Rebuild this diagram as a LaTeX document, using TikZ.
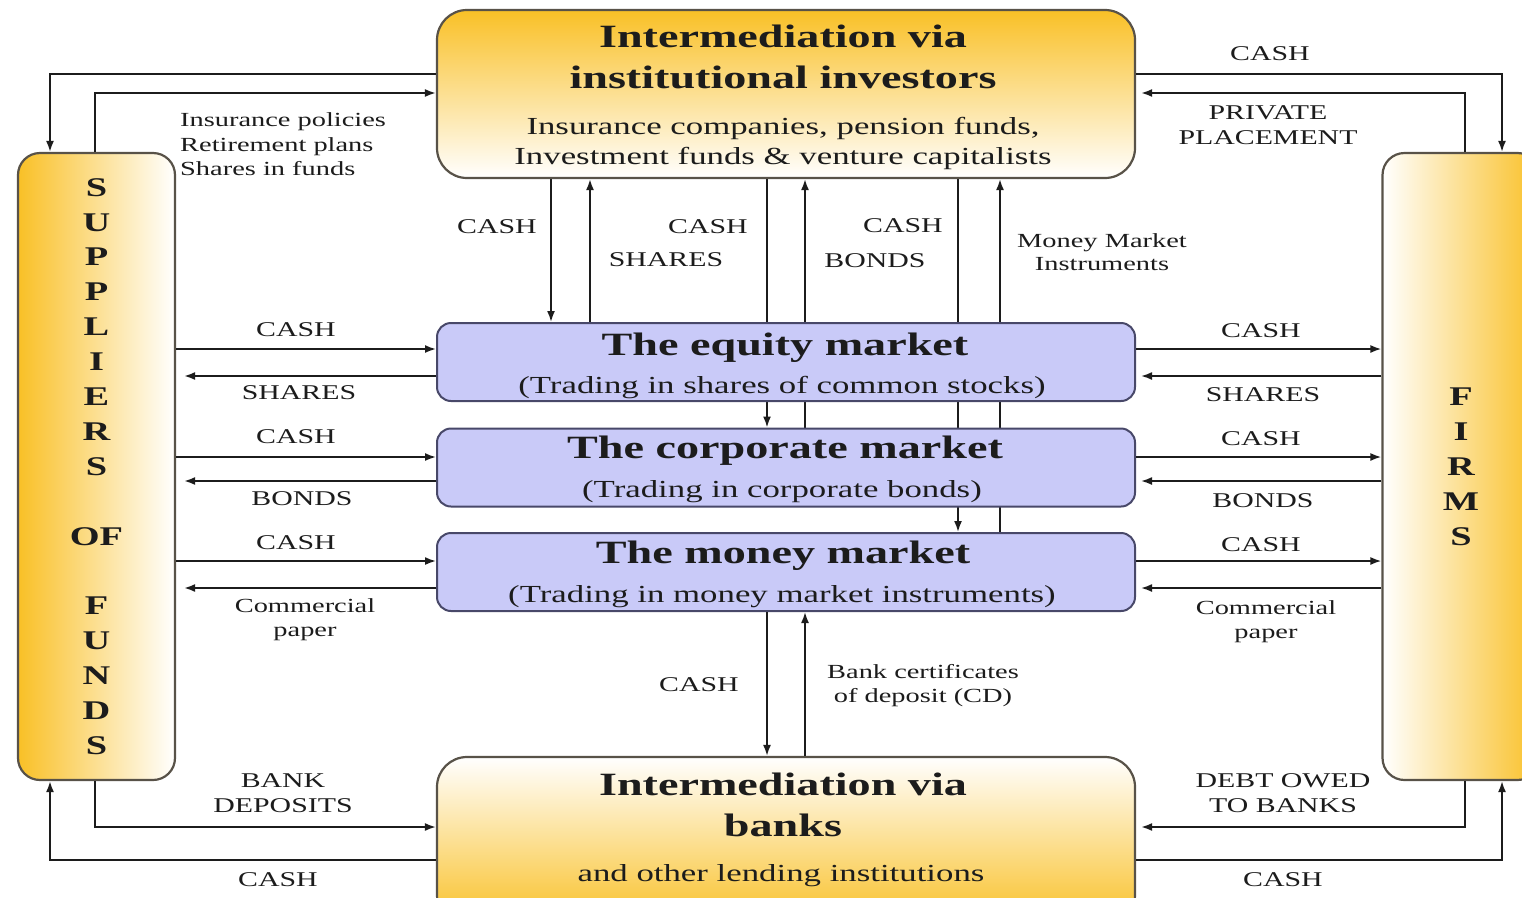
\documentclass[tikz,border=0pt]{standalone}
\usepackage{fontspec}
\setmainfont{Liberation Serif}[FakeStretch=1.42]
\usetikzlibrary{arrows.meta,backgrounds}

\definecolor{gold}{RGB}{249,192,38}
\definecolor{lav}{RGB}{201,202,248}
\definecolor{lavedge}{RGB}{72,72,105}
\definecolor{edge}{RGB}{88,82,72}
\definecolor{ink}{RGB}{28,28,28}

\tikzset{
  txtitle/.style={anchor=base, inner sep=0pt, text=ink, font=\fontsize{32.5}{36}\selectfont\bfseries},
  txsub/.style={anchor=base, inner sep=0pt, text=ink, font=\fontsize{24.5}{27}\selectfont},
  txcap/.style={anchor=base, inner sep=0pt, text=ink, font=\fontsize{21}{25}\selectfont},
  txsmall/.style={anchor=base, inner sep=0pt, text=ink, font=\fontsize{20}{24}\selectfont},
  market/.style={draw=lavedge, line width=2pt, fill=lav, rounded corners=14pt,
    minimum width=698pt, minimum height=78pt, inner sep=0pt},
  bigbox/.style={draw=edge, line width=2.2pt, rounded corners=30pt,
    minimum width=698pt, minimum height=168pt, inner sep=0pt},
  sidebox/.style={draw=edge, line width=2.2pt, rounded corners=22pt,
    minimum width=157pt, minimum height=627pt, inner sep=0pt, align=center,
    text=ink, font=\fontsize{27}{34.9}\selectfont\bfseries},
  arr/.style={draw=ink, line width=1.8pt, -{Latex[length=11pt,width=8pt]}}
}

\begin{document}
\begin{tikzpicture}[x=1pt,y=-1pt]
\useasboundingbox (0,0) rectangle (1522,897);
\begin{pgfonlayer}{background}
  \fill[white] (0,0) rectangle (1522,897);
\end{pgfonlayer}
\clip (0,0) rectangle (1522,897);

% --- main boxes ---
\node[bigbox, top color=gold, bottom color=white] (inst) at (786,94) {};
\node[bigbox, top color=white, bottom color=gold] (bank) at (786,841) {};
\node[sidebox, left color=gold, right color=white] (sup) at (96.5,466.5)
  {S\\U\\P\\P\\L\\I\\E\\R\\S\\[34.9pt]OF\\[34.9pt]F\\U\\N\\D\\S};
\node[sidebox, left color=white, right color=gold] (firm) at (1461,466.5)
  {F\\I\\R\\M\\S};

\node[market] (eq)   at (786,362)   {};
\node[market] (corp) at (786,467.5) {};
\node[market] (mon)  at (786,572)   {};

% --- box texts ---
\node[txtitle] (instA) at (783,47)  {Intermediation via};
\node[txtitle] (instB) at (783,88)  {institutional investors};
\node[txsub]   (instC) at (783,134) {Insurance companies, pension funds,};
\node[txsub]   (instD) at (783,164) {Investment funds \& venture capitalists};

\node[txtitle] (bankA) at (783,795) {Intermediation via};
\node[txtitle] (bankB) at (783,836) {banks};
\node[txsub]   (bankC) at (781,881) {and other lending institutions};

\node[txtitle] (eqA)   at (785,355) {The equity market};
\node[txsub]   (eqB)   at (782,393) {(Trading in shares of common stocks)};
\node[txtitle] (corpA) at (785,458) {The corporate market};
\node[txsub]   (corpB) at (782,497) {(Trading in corporate bonds)};
\node[txtitle] (monA)  at (783,563) {The money market};
\node[txsub]   (monB)  at (782,602) {(Trading in money market instruments)};

% --- reference levels and columns for the connectors ---
\coordinate (t1) at (0,74);   \coordinate (t2) at (0,93);
\coordinate (b1) at (0,827);  \coordinate (b2) at (0,860);
\coordinate (xl1) at (50,0);  \coordinate (xl2) at (95,0);
\coordinate (xr1) at (1502,0);\coordinate (xr2) at (1465,0);
\coordinate (e1) at (0,349);  \coordinate (e2) at (0,376);
\coordinate (c1) at (0,457);  \coordinate (c2) at (0,481);
\coordinate (m1) at (0,561);  \coordinate (m2) at (0,588);
\coordinate (v1) at (551,0);  \coordinate (v2) at (590,0);
\coordinate (v3) at (767,0);  \coordinate (v4) at (805,0);
\coordinate (v5) at (958,0);  \coordinate (v6) at (1000,0);

% --- loops round the outside ---
\draw[arr] (inst.west |- t1) -| (sup.north -| xl1);
\draw[arr] (sup.north -| xl2) |- (inst.west |- t2);
\draw[arr] (inst.east |- t1) -| (firm.north -| xr1);
\draw[arr, shorten >=5pt] (firm.north -| xr2) |- (inst.east |- t2);
\draw[arr] (sup.south -| xl2) |- (bank.west |- b1);
\draw[arr] (bank.west |- b2) -| (sup.south -| xl1);
\draw[arr, shorten >=5pt] (firm.south -| xr2) |- (bank.east |- b1);
\draw[arr] (bank.east |- b2) -| (firm.south -| xr1);

% --- suppliers <-> markets ---
\draw[arr] (sup.east |- e1) -- (eq.west |- e1);
\draw[arr, shorten >=8pt] (eq.west |- e2) -- (sup.east |- e2);
\draw[arr] (sup.east |- c1) -- (corp.west |- c1);
\draw[arr, shorten >=8pt] (corp.west |- c2) -- (sup.east |- c2);
\draw[arr] (sup.east |- m1) -- (mon.west |- m1);
\draw[arr, shorten >=8pt] (mon.west |- m2) -- (sup.east |- m2);

% --- markets <-> firms ---
\draw[arr] (eq.east |- e1) -- (firm.west |- e1);
\draw[arr, shorten >=5pt] (firm.west |- e2) -- (eq.east |- e2);
\draw[arr] (corp.east |- c1) -- (firm.west |- c1);
\draw[arr, shorten >=5pt] (firm.west |- c2) -- (corp.east |- c2);
\draw[arr] (mon.east |- m1) -- (firm.west |- m1);
\draw[arr, shorten >=5pt] (firm.west |- m2) -- (mon.east |- m2);

% --- institutional investors <-> markets (passing behind the market boxes) ---
\begin{pgfonlayer}{background}
  \draw[arr] (inst.south -| v1) -- (eq.north -| v1);
  \draw[arr] (eq.north -| v2) -- (inst.south -| v2);
  \draw[arr] (inst.south -| v3) -- (corp.north -| v3);
  \draw[arr] (corp.north -| v4) -- (inst.south -| v4);
  \draw[arr] (inst.south -| v5) -- (mon.north -| v5);
  \draw[arr] (mon.north -| v6) -- (inst.south -| v6);
\end{pgfonlayer}

% --- money market <-> banks ---
\draw[arr] (mon.south -| v3) -- (bank.north -| v3);
\draw[arr] (bank.north -| v4) -- (mon.south -| v4);

% --- flow labels ---
\node[txcap] (lc1) at (296,336) {CASH};
\node[txcap] (ls1) at (299,399) {SHARES};
\node[txcap] (lc2) at (296,443) {CASH};
\node[txcap] (lb1) at (302,505) {BONDS};
\node[txcap] (lc3) at (296,549) {CASH};
\node[txsmall] (lp1) at (305,612) {Commercial};
\node[txsmall] (lp2) at (305,636) {paper};

\node[txcap] (rc1) at (1261,337) {CASH};
\node[txcap] (rs1) at (1263,401) {SHARES};
\node[txcap] (rc2) at (1261,445) {CASH};
\node[txcap] (rb1) at (1263,507) {BONDS};
\node[txcap] (rc3) at (1261,551) {CASH};
\node[txsmall] (rp1) at (1266,614) {Commercial};
\node[txsmall] (rp2) at (1266,638) {paper};

\node[txcap] (tc)  at (1270,60)  {CASH};
\node[txcap] (tp1) at (1268,119) {PRIVATE};
\node[txcap] (tp2) at (1268,144) {PLACEMENT};

\node[txsmall, anchor=base west] (ti1) at (180,126) {Insurance policies};
\node[txsmall, anchor=base west] (ti2) at (180,151) {Retirement plans};
\node[txsmall, anchor=base west] (ti3) at (180,175) {Shares in funds};

\node[txcap] (mc1) at (497,233) {CASH};
\node[txcap] (mc2) at (708,233) {CASH};
\node[txcap] (ms2) at (666,266) {SHARES};
\node[txcap] (mc3) at (903,232) {CASH};
\node[txcap] (mb3) at (875,267) {BONDS};
\node[txsmall] (mm1) at (1102,247) {Money Market};
\node[txsmall] (mm2) at (1102,270) {Instruments};

\node[txcap] (bc)  at (699,691) {CASH};
\node[txsmall] (bd1) at (923,678) {Bank certificates};
\node[txsmall] (bd2) at (923,702) {of deposit (CD)};

\node[txcap] (bl1) at (283,787) {BANK};
\node[txcap] (bl2) at (283,812) {DEPOSITS};
\node[txcap] (bl3) at (278,886) {CASH};
\node[txcap] (br1) at (1283,787) {DEBT OWED};
\node[txcap] (br2) at (1283,812) {TO BANKS};
\node[txcap] (br3) at (1283,886) {CASH};
\end{tikzpicture}
\end{document}
